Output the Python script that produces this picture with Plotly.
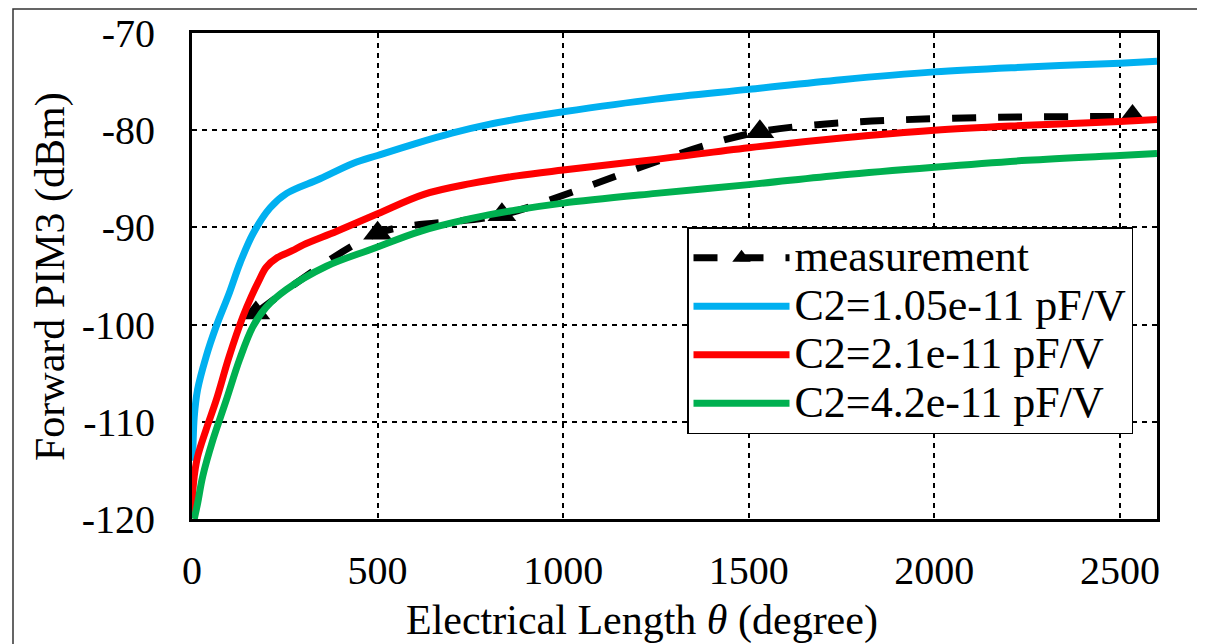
import plotly.graph_objects as go

# ---- data ----
meas_x = [172, 500, 835, 1530, 2534]
meas_y = [-98.8, -90.6, -88.7, -80.15, -78.6]

blue_x = [0, 2, 6, 15, 38, 65, 100, 130, 165, 210, 255, 345, 435, 500, 600, 700, 800, 900, 1000, 1250, 1500, 1750, 2000, 2250, 2500, 2600]
blue_y = [-114, -113, -109.5, -106.7, -103.3, -100.2, -96.8, -93.6, -90.6, -88.0, -86.5, -85.0, -83.4, -82.6, -81.4, -80.3, -79.4, -78.7, -78.1, -76.8, -75.8, -74.8, -74.0, -73.5, -73.1, -72.9]

red_x = [0, 4, 15, 38, 65, 100, 137, 160, 180, 200, 230, 270, 300, 390, 500, 625, 750, 875, 1000, 1250, 1500, 1750, 2000, 2250, 2500, 2600]
red_y = [-119.8, -116.3, -113.6, -110.8, -107.8, -103.3, -99.2, -97.1, -95.5, -94.1, -93.1, -92.4, -91.8, -90.4, -88.6, -86.6, -85.5, -84.7, -84.1, -83.0, -81.8, -80.8, -80.0, -79.5, -79.1, -78.9]

green_x = [6, 15, 29, 56, 92, 128, 164, 200, 254, 362, 487, 615, 750, 875, 1000, 1250, 1500, 1750, 2000, 2250, 2500, 2600]
green_y = [-120, -118.4, -115.6, -111.9, -107.8, -103.6, -100.2, -98.2, -96.4, -94.0, -92.2, -90.4, -89.1, -88.2, -87.5, -86.5, -85.6, -84.6, -83.8, -83.1, -82.6, -82.4]

x_ticks = [0, 500, 1000, 1500, 2000, 2500]
y_ticks = [-70, -80, -90, -100, -110, -120]

names = ["measurement", "C2=1.05e-11 pF/V", "C2=2.1e-11 pF/V", "C2=4.2e-11 pF/V"]
colors = ["#000000", "#00B0F0", "#FF0000", "#00B050"]

FONT = "Liberation Serif, Times New Roman, serif"


def legend_label(s):
    # larger visible text while keeping the compact row spacing of the reference
    return '<span style="font-size:44px">' + s + '</span>'


fig = go.Figure()
fig.add_trace(go.Scatter(
    x=meas_x, y=meas_y, name=legend_label(names[0]), mode="lines+markers",
    line=dict(color=colors[0], width=7, dash="24px,22px", shape="spline", smoothing=0.8),
    marker=dict(symbol="triangle-up", size=25, color=colors[0]),
))
for xs, ys, nm, c in [(blue_x, blue_y, names[1], colors[1]),
                      (red_x, red_y, names[2], colors[2]),
                      (green_x, green_y, names[3], colors[3])]:
    fig.add_trace(go.Scatter(
        x=xs, y=ys, name=legend_label(nm), mode="lines",
        line=dict(color=c, width=7, shape="spline", smoothing=1.0),
    ))

axis_common = dict(
    showline=True, linecolor="black", linewidth=3, mirror=True,
    showgrid=True, gridcolor="black", gridwidth=1.5, griddash="5px,5px",
    zeroline=False, ticks="", automargin=False,
    tickfont=dict(family=FONT, size=40, color="black"),
)

fig.update_xaxes(range=[0, 2600], tickvals=x_ticks, ticktext=[str(v) for v in x_ticks],
                 ticklabelstandoff=14, **axis_common)
fig.update_yaxes(range=[-120, -70], tickvals=y_ticks, ticktext=[str(v) for v in y_ticks],
                 ticklabelstandoff=26, **axis_common)

fig.add_annotation(
    text="Electrical Length <i>θ</i> (degree)", xref="paper", yref="paper",
    x=(642 - 192) / 965, y=(519 - 620) / 486, xanchor="center", yanchor="middle",
    showarrow=False, font=dict(family=FONT, size=42, color="black"),
)
fig.add_annotation(
    text="Forward PIM3 (dBm)", xref="paper", yref="paper", textangle=-90,
    x=(50 - 192) / 965, y=(519 - 277) / 486, xanchor="center", yanchor="middle",
    showarrow=False, font=dict(family=FONT, size=42, color="black"),
)

# outer chart border (partially off-canvas, as in the reference)
fig.add_shape(type="rect", xref="paper", yref="paper",
              x0=(13 - 192) / 965, x1=1.2, y0=-0.4, y1=1 + (33 - 9) / 486,
              line=dict(color="#333333", width=1.5), layer="below")

# page body has an 8px offset, so margins are reduced by 8px on top/left
fig.update_layout(
    width=1205, height=644,
    margin=dict(l=184, r=56, t=25, b=133, autoexpand=False),
    paper_bgcolor="white", plot_bgcolor="white",
    font=dict(family=FONT, color="black"),
    legend=dict(
        x=(687 - 192) / 965, y=(519 - 227) / 486, xanchor="left", yanchor="top",
        bgcolor="white", bordercolor="black", borderwidth=1.5,
        font=dict(family=FONT, size=35, color="black"),
        itemwidth=96, tracegroupgap=0,
    ),
    showlegend=True,
)

fig.write_html("out.html")
